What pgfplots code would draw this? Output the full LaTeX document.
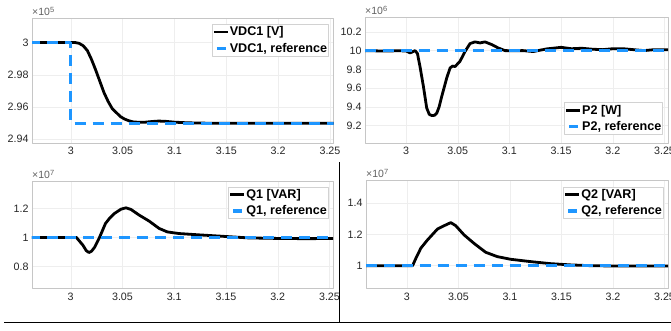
\documentclass[border=0pt]{standalone}
\usepackage{pgfplots}
\pgfplotsset{compat=1.18}
\usepackage{fontspec}
\setmainfont{Liberation Sans}
\definecolor{refblue}{RGB}{30,150,255}
\definecolor{ticktext}{rgb}{0.15,0.15,0.15}
\pgfplotsset{
  myax/.style={
    scale only axis,
    anchor=south west,
    axis line style={gray!45, line width=0.5pt},
    grid=major,
    major grid style={gray!13, line width=0.4pt},
    tick style={draw=none},
    /pgf/number format/assume math mode=true,
    ticklabel style={font=\fontsize{10.7}{12}\selectfont, text=ticktext},
    xtick={3,3.05,3.1,3.15,3.2,3.25},
    xticklabels={3,3.05,3.1,3.15,3.2,3.25},
    xticklabel style={yshift=-1pt},
    legend style={draw=gray!35, line width=0.5pt, font=\bfseries\fontsize{12.6}{14}\selectfont,
      inner xsep=0.5pt, inner ysep=2pt, row sep=4.5pt, nodes={inner sep=0.5pt}, cells={anchor=west}},
    legend image code/.code={\draw[#1] (0pt,0pt) -- (14pt,0pt);},
    line join=round,
  },
  meas/.style={black, line width=2.8pt},
  refl/.style={refblue, line width=3.2pt, dash pattern=on 11pt off 7pt,
    legend image code/.code={\draw[refblue, line width=3.2pt] (3pt,0pt) -- (12pt,0pt);}},
}
\newcommand{\expo}[2]{\node[anchor=south west, font=\fontsize{10.5}{12}\selectfont, text=gray!75!black, inner sep=0pt] at ([yshift=2.5pt]#1.north west) {×10\raisebox{0.55ex}{\fontsize{7.5}{8}\selectfont #2}};}
\begin{document}
\begin{tikzpicture}
\path[use as bounding box] (0pt,0pt) rectangle (671pt,331pt);
\clip (0pt,0pt) rectangle (671pt,331pt);

% Top-left: VDC1
\begin{axis}[myax, name=tl, at={(32pt,188pt)}, width=301.5pt, height=125pt,
  xmin=2.9626, xmax=3.2534, ymin=2.9377, ymax=3.0152,
  ytick={2.94,2.96,2.98,3}, yticklabels={2.94,2.96,2.98,3},
  legend style={at={(0.983,0.952)}, anchor=north east}]
\addplot[meas] coordinates {
(2.96,3.0) (3.0,3.0) (3.004,3.0) (3.008,2.9995) (3.012,2.998) (3.016,2.995)
(3.020,2.9895) (3.024,2.983) (3.028,2.976) (3.032,2.969) (3.036,2.9635)
(3.040,2.959) (3.044,2.9565) (3.048,2.954) (3.052,2.9525) (3.056,2.9515)
(3.060,2.9508) (3.066,2.9505) (3.072,2.9506) (3.078,2.951) (3.085,2.9513)
(3.092,2.9511) (3.100,2.9506) (3.110,2.9503) (3.120,2.9501) (3.130,2.9500) (3.26,2.95)};
\addlegendentry{VDC1 [V]}
\addplot[refl] coordinates {(2.96,3.0) (3.0,3.0) (3.0,2.95) (3.26,2.95)};
\addlegendentry{VDC1, reference}
\end{axis}
\expo{tl}{5}

% Top-right: P2
\begin{axis}[myax, name=tr, at={(365pt,188pt)}, width=303pt, height=125.5pt,
  xmin=2.9603, xmax=3.2534, ymin=9.015, ymax=10.353,
  ytick={9.2,9.4,9.6,9.8,10,10.2}, yticklabels={9.2,9.4,9.6,9.8,10,10.2},
  legend style={at={(0.982,0.324)}, anchor=north east}]
\addplot[meas] coordinates {
(2.96,10.0) (2.98,9.995) (2.99,9.998) (3.0,9.997) (3.004,9.975) (3.0087,10.0)
(3.011,9.97) (3.0135,9.83) (3.0168,9.618) (3.020,9.387) (3.0225,9.32)
(3.0248,9.308) (3.0275,9.31) (3.0297,9.333) (3.032,9.40) (3.0345,9.51)
(3.0394,9.71) (3.0426,9.815) (3.045,9.835) (3.0474,9.83) (3.0522,9.886)
(3.057,9.99) (3.0619,10.075) (3.0667,10.093) (3.0716,10.082) (3.0764,10.093)
(3.083,10.064) (3.089,10.029) (3.0957,10.0) (3.105,9.998) (3.113,10.0)
(3.123,9.99) (3.136,10.018) (3.15,10.035) (3.16,10.02) (3.17,10.025)
(3.18,10.015) (3.19,10.01) (3.20,10.02) (3.21,10.02) (3.22,10.01)
(3.23,10.0) (3.24,10.01) (3.26,10.01)};
\addlegendentry{P2 [W]}
\addplot[refl] coordinates {(2.96,10.0) (3.26,10.0)};
\addlegendentry{P2, reference}
\end{axis}
\expo{tr}{6}

% Bottom-left: Q1
\begin{axis}[myax, name=bl, at={(32pt,42.7pt)}, width=301pt, height=106.6pt,
  xmin=2.9626, xmax=3.2534, ymin=0.652, ymax=1.382,
  ytick={0.8,1,1.2}, yticklabels={0.8,1,1.2},
  legend style={at={(0.984,0.953)}, anchor=north east}]
\addplot[meas] coordinates {
(2.96,1.0) (3.0,1.0) (3.0055,1.0) (3.0118,0.947) (3.0150,0.910) (3.0176,0.897)
(3.020,0.905) (3.023,0.932) (3.0278,1.0) (3.0336,1.096) (3.0374,1.13)
(3.0422,1.164) (3.0486,1.194) (3.0534,1.203) (3.0582,1.192) (3.0662,1.153)
(3.0758,1.112) (3.0854,1.062) (3.0934,1.038) (3.1046,1.027) (3.1238,1.018)
(3.1494,1.007) (3.1718,0.997) (3.2038,0.993) (3.226,0.992) (3.26,0.993)};
\addlegendentry{Q1 [VAR]}
\addplot[refl] coordinates {(2.96,1.0) (3.26,1.0)};
\addlegendentry{Q1, reference}
\end{axis}
\expo{bl}{7}

% Bottom-right: Q2
\begin{axis}[myax, name=br, at={(366pt,42.7pt)}, width=302pt, height=108.3pt,
  xmin=2.9603, xmax=3.2534, ymin=0.855, ymax=1.549,
  ytick={1,1.2,1.4}, yticklabels={1,1.2,1.4},
  legend style={at={(0.984,0.938)}, anchor=north east}]
\addplot[meas] coordinates {
(2.96,1.0) (3.0,1.0) (3.0055,1.0) (3.0087,1.047) (3.0135,1.112) (3.020,1.165)
(3.0297,1.235) (3.0361,1.256) (3.0426,1.276) (3.0474,1.256) (3.0555,1.197)
(3.0651,1.143) (3.0764,1.086) (3.0877,1.058) (3.1006,1.041) (3.12,1.026)
(3.1393,1.013) (3.1586,1.005) (3.178,1.0) (3.20,0.998) (3.26,0.998)};
\addlegendentry{Q2 [VAR]}
\addplot[refl] coordinates {(2.96,1.0) (3.26,1.0)};
\addlegendentry{Q2, reference}
\end{axis}
\expo{br}{7}

% figure frame lines
\draw[black, line width=1pt] (4pt,8pt) -- (671pt,8pt);
\draw[black, line width=1pt] (339pt,8pt) -- (339pt,169pt);
\end{tikzpicture}
\end{document}
